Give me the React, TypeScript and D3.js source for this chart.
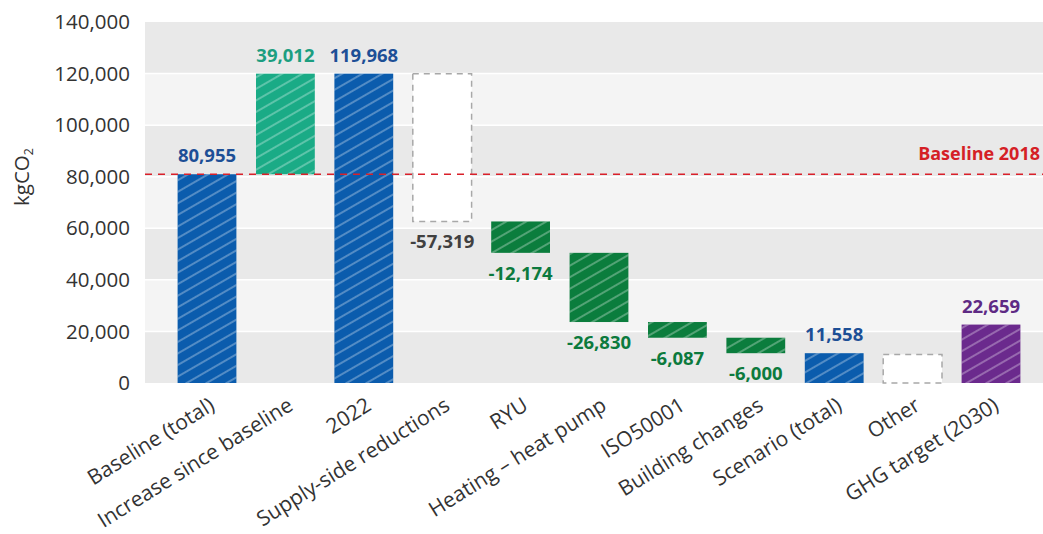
import React from "react";
import * as d3 from "d3";

const categories = [
  "Baseline (total)",
  "Increase since baseline",
  "2022",
  "Supply-side reductions",
  "RYU",
  "Heating – heat pump",
  "ISO50001",
  "Building changes",
  "Scenario (total)",
  "Other",
  "GHG target (2030)",
];
// [start, end] of each bar in kgCO2
const barStart = [0, 80955, 0, 119968, 62649, 50475, 23645, 17558, 0, 0, 0];
const barEnd = [80955, 119968, 119968, 62649, 50475, 23645, 17558, 11558, 11558, 11101, 22659];
const valueLabels = ["80,955", "39,012", "119,968", "-57,319", "-12,174", "-26,830", "-6,087", "-6,000", "11,558", "", "22,659"];
const kinds = ["blue", "teal", "blue", "empty", "green", "green", "green", "green", "blue", "empty", "purple"];
const yTicks = [0, 20000, 40000, 60000, 80000, 100000, 120000, 140000];
const baselineValue = 80955;
const baselineLabel = "Baseline 2018";

const W = 1043;
const H = 534;
const plotLeft = 145;
const plotRight = 1043;
const plotTop = 22;
const plotBottom = 383;

const fill: Record<string, string> = {
  blue: "#0b5cad",
  teal: "#1aab86",
  green: "#0b7d3d",
  purple: "#6b2a8d",
  empty: "#ffffff",
};
const labelColor: Record<string, string> = {
  blue: "#1d4f96",
  teal: "#1c9e80",
  green: "#0c7a3d",
  purple: "#5e2a84",
  empty: "#404040",
};

export default function App() {
  const y = d3.scaleLinear().domain([0, 140000]).range([plotBottom, plotTop]);
  const x = d3
    .scaleBand<string>()
    .domain(categories)
    .range([167.8, 167.8 + 78.4 * 11])
    .paddingInner(0.25)
    .paddingOuter(0.125);
  const fmt = d3.format(",");
  const font = "'Open Sans', 'Noto Sans', sans-serif";

  const bands = yTicks.slice(0, -1).map((t, i) => ({
    y0: y(t + 20000),
    y1: y(t),
    color: i % 2 === 0 ? "#e9e9e9" : "#f4f4f4",
  }));

  return (
    <svg width={W} height={H} style={{ position: "absolute", left: 0, top: 0, background: "#fff" }}>
      <defs>
        <pattern id="hatch" width="10" height="10" patternUnits="userSpaceOnUse" patternTransform="rotate(-30)">
          <line x1="0" y1="5" x2="10" y2="5" stroke="rgba(255,255,255,0.45)" strokeWidth="1.3" />
        </pattern>
      </defs>
      {bands.map((b, i) => (
        <rect key={i} x={plotLeft} y={b.y0} width={plotRight - plotLeft} height={b.y1 - b.y0} fill={b.color} />
      ))}
      {yTicks.slice(1, -1).map((t) => (
        <line key={t} x1={plotLeft} x2={plotRight} y1={y(t)} y2={y(t)} stroke="#fff" strokeWidth={1.5} />
      ))}
      {yTicks.map((t) => (
        <text key={t} x={130} y={y(t)} dy="0.35em" textAnchor="end" fontFamily={font} fontSize={20.5} fill="#333">
          {fmt(t)}
        </text>
      ))}
      <text
        transform={`translate(29,177) rotate(-90)`}
        textAnchor="middle"
        fontFamily={font}
        fontSize={20.5}
        fill="#333"
      >
        kgCO<tspan fontSize={12.5} dy="4">2</tspan>
      </text>
      {categories.map((c, i) => {
        const x0 = x(c)!;
        const top = y(Math.max(barStart[i], barEnd[i]));
        const bot = y(Math.min(barStart[i], barEnd[i]));
        const k = kinds[i];
        const isEmpty = k === "empty";
        return (
          <g key={c}>
            <rect
              x={x0}
              y={top}
              width={x.bandwidth()}
              height={bot - top}
              fill={fill[k]}
              stroke={isEmpty ? "#a8a8a8" : "none"}
              strokeWidth={isEmpty ? 1.5 : 0}
              strokeDasharray={isEmpty ? "6,5" : undefined}
            />
            {!isEmpty && <rect x={x0} y={top} width={x.bandwidth()} height={bot - top} fill="url(#hatch)" />}
          </g>
        );
      })}
      <line
        x1={plotLeft}
        x2={plotRight}
        y1={y(baselineValue)}
        y2={y(baselineValue)}
        stroke="#d9202a"
        strokeWidth={1.5}
        strokeDasharray="7,6"
      />
      <text x={1040} y={160} textAnchor="end" fontFamily={font} fontSize={18} fontWeight={700} fill="#d51f26">
        {baselineLabel}
      </text>
      {categories.map((c, i) => {
        if (!valueLabels[i]) return null;
        const cx = x(c)! + x.bandwidth() / 2;
        const negative = barEnd[i] < barStart[i];
        const ty = negative ? y(barEnd[i]) + 27 : y(barEnd[i]) - 12;
        return (
          <text
            key={c}
            x={cx}
            y={ty}
            textAnchor="middle"
            fontFamily={font}
            fontSize={18.5}
            fontWeight={700}
            fill={labelColor[kinds[i]]}
          >
            {valueLabels[i]}
          </text>
        );
      })}
      {categories.map((c) => {
        const cx = x(c)! + x.bandwidth() / 2;
        return (
          <text
            key={c}
            transform={`translate(${cx + 9},${plotBottom + 26}) rotate(-32)`}
            textAnchor="end"
            fontFamily={font}
            fontSize={21}
            fill="#333"
          >
            {c}
          </text>
        );
      })}
    </svg>
  );
}
